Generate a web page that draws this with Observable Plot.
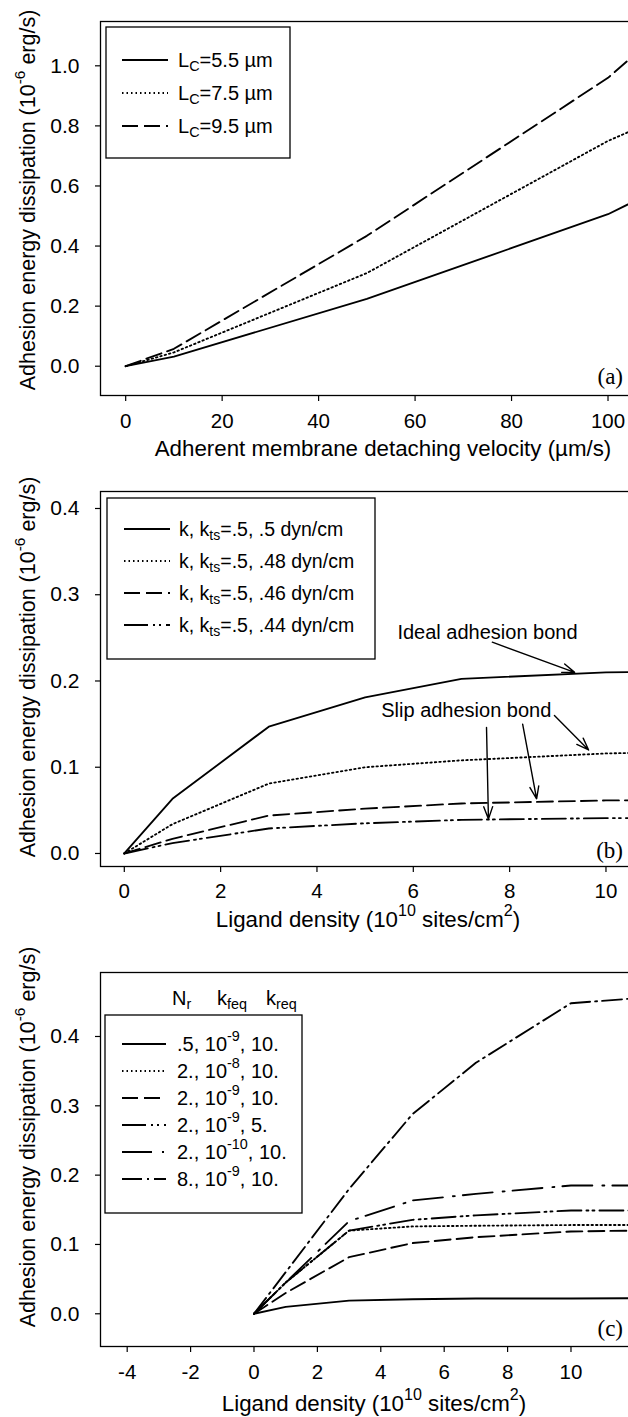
<!DOCTYPE html>
<html><head><meta charset="utf-8">
<script src="https://cdn.jsdelivr.net/npm/d3@7"></script>
<script src="https://cdn.jsdelivr.net/npm/@observablehq/plot@0.6"></script>
<style>
html,body{margin:0;padding:0;background:#fff;}
#chart{width:628px;overflow:hidden;}
#chart svg{display:block;}
</style></head><body><div id="chart"></div>
<script>
const SANS = "'Liberation Sans', Arial, Helvetica, sans-serif";
const SERIF = "'Liberation Serif', 'Times New Roman', serif";

// ---------- Panel (a) data ----------
const velocityA = [0, 10, 50, 100, 110];
const lc55 = [0, 0.032, 0.224, 0.506, 0.585];
const lc75 = [0, 0.046, 0.310, 0.750, 0.820];
const lc95 = [0, 0.058, 0.434, 0.960, 1.100];
const lcLabels = ["5.5", "7.5", "9.5"];
const xTicksA = [0, 20, 40, 60, 80, 100];
const yTicksA = [0, 0.2, 0.4, 0.6, 0.8, 1.0];

// ---------- Panel (b) data ----------
const ligandB = [0, 1, 3, 5, 7, 10, 12];
const kts50 = [0, 0.0634, 0.147, 0.181, 0.2025, 0.210, 0.211];
const kts48 = [0, 0.034, 0.081, 0.100, 0.108, 0.116, 0.118];
const kts46 = [0, 0.017, 0.044, 0.052, 0.058, 0.0615, 0.062];
const kts44 = [0, 0.012, 0.029, 0.035, 0.039, 0.041, 0.041];
const ktsLabels = [".5", ".48", ".46", ".44"];
const xTicksB = [0, 2, 4, 6, 8, 10];
const yTicksB = [0, 0.1, 0.2, 0.3, 0.4];
const noteText = ["Ideal adhesion bond", "Slip adhesion bond"];
const noteX = [7.54, 7.10];
const noteY = [0.2566, 0.1658];
const arrowX1 = [7.64, 8.93, 8.27, 7.52];
const arrowY1 = [0.245, 0.160, 0.150, 0.146];
const arrowX2 = [9.35, 9.64, 8.56, 7.56];
const arrowY2 = [0.210, 0.120, 0.0634, 0.040];

// ---------- Panel (c) data ----------
const ligandC = [0, 1, 3, 5, 7, 10, 12];
const nr05_k9_10 = [0, 0.010, 0.019, 0.021, 0.022, 0.022, 0.0225];
const nr2_k8_10 = [0, 0.045, 0.120, 0.126, 0.127, 0.128, 0.128];
const nr2_k9_10 = [0, 0.030, 0.0817, 0.102, 0.1105, 0.1187, 0.120];
const nr2_k9_5 = [0, 0.045, 0.120, 0.1355, 0.142, 0.149, 0.149];
const nr2_k10_10 = [0, 0.045, 0.1336, 0.1634, 0.173, 0.185, 0.185];
const nr8_k9_10 = [0, 0.060, 0.180, 0.288, 0.362, 0.448, 0.455];
const nrLabels = [".5", "2.", "2.", "2.", "2.", "8."];
const kfeqExp = ["-9", "-8", "-9", "-9", "-10", "-9"];
const kreqLabels = ["10.", "10.", "10.", "5.", "10.", "10."];
const xTicksC = [-4, -2, 0, 2, 4, 6, 8, 10];
const yTicksC = [0, 0.1, 0.2, 0.3, 0.4];

// ---------- styles ----------
const dashA = [null, "1.5,3", "16,6"];
const dashB = [null, "1.5,3", "16,6", "24,5,2,4,2,5"];
const dashC = [null, "1.5,3", "16,6", "24,5,2,4,2,5", "30,10,2,8", "20,5,2,5"];
const LW = 1.85;

const toRows = (xs, ys) => xs.map((x, i) => ({x, y: ys[i]}));

function rich(sel, parts, fs) {
  let shift = 0;
  parts.forEach(p => {
    const str = Array.isArray(p) ? p[0] : p;
    const kind = Array.isArray(p) ? p[1] : null;
    const target = kind === "sub" ? 0.3 * fs : kind === "sup" ? -0.42 * fs : 0;
    const t = sel.append("tspan").text(str).attr("dy", target - shift);
    if (kind) t.attr("font-size", 0.72 * fs);
    shift = target;
  });
}

function panel(cfg) {
  const marks = [
    Plot.frame({stroke: "black", strokeWidth: 1.3}),
    Plot.axisX({ticks: cfg.xTicks, tickSize: 6, tickPadding: cfg.xPad, fontSize: 20.5, label: null, tickFormat: d => String(d), strokeWidth: 1.2}),
    Plot.axisY({ticks: cfg.yTicks, tickSize: 5, tickPadding: 16, fontSize: 21, label: null, tickFormat: d3.format(".1f"), strokeWidth: 1.2}),
    ...cfg.series.map(s => Plot.line(toRows(s.x, s.y), {x: "x", y: "y", stroke: "black", strokeWidth: LW, strokeDasharray: s.dash || undefined, clip: true})),
    ...(cfg.extra || [])
  ];
  const svg = Plot.plot({
    width: 628, height: cfg.height,
    marginLeft: 100, marginRight: -3, marginTop: cfg.mt, marginBottom: cfg.mb,
    style: {fontFamily: SANS, background: "white", color: "black", overflow: "hidden"},
    x: {domain: cfg.xDomain, label: null},
    y: {domain: cfg.yDomain, label: null},
    marks
  });
  const s = d3.select(svg);
  const TF = 22.3;
  const xt = s.append("text").attr("x", cfg.xTitle[0]).attr("y", cfg.xTitle[1])
    .attr("text-anchor", "middle").attr("dominant-baseline", "central")
    .attr("font-size", TF).attr("font-family", SANS).attr("fill", "black");
  rich(xt, cfg.xTitle[2], TF);
  const yt = s.append("text").attr("transform", `translate(28,${cfg.yTitleY}) rotate(-90)`)
    .attr("text-anchor", "middle").attr("dominant-baseline", "central")
    .attr("font-size", 21.5).attr("font-family", SANS).attr("fill", "black");
  rich(yt, ["Adhesion energy dissipation (10", ["-6", "sup"], " erg/s)"], 21.5);
  s.append("text").attr("x", 623).attr("y", cfg.tagY).attr("text-anchor", "end")
    .attr("dominant-baseline", "central").attr("font-family", SERIF).attr("font-size", 23)
    .attr("fill", "black").text(cfg.tag);
  const L = cfg.legend;
  s.append("rect").attr("x", L.box[0]).attr("y", L.box[1]).attr("width", L.box[2] - L.box[0])
    .attr("height", L.box[3] - L.box[1]).attr("fill", "white").attr("stroke", "black").attr("stroke-width", 1.3);
  L.rows.forEach((r, i) => {
    const y = L.y0 + i * L.dy;
    const ln = s.append("line").attr("x1", L.sx[0]).attr("x2", L.sx[1]).attr("y1", y).attr("y2", y)
      .attr("stroke", "black").attr("stroke-width", LW);
    if (r.dash) ln.attr("stroke-dasharray", r.dash);
    const t = s.append("text").attr("x", L.tx).attr("y", y).attr("dominant-baseline", "central")
      .attr("text-anchor", "start")
      .attr("font-family", SANS).attr("font-size", L.fs).attr("fill", "black");
    rich(t, r.parts, L.fs);
  });
  if (L.header) {
    L.header.forEach(h => {
      const t = s.append("text").attr("x", h.x).attr("y", L.headerY).attr("dominant-baseline", "central")
        .attr("text-anchor", "start")
        .attr("font-family", SANS).attr("font-size", L.fs).attr("fill", "black");
      rich(t, h.parts, L.fs);
    });
  }
  document.getElementById("chart").appendChild(svg);
}

// Panel (a)
panel({
  height: 470, mt: 21, mb: 75, xPad: 12,
  xDomain: [-5.22, 104.87], yDomain: [-0.0975, 1.1475],
  xTicks: xTicksA, yTicks: yTicksA,
  series: [lc55, lc75, lc95].map((y, i) => ({x: velocityA, y, dash: dashA[i]})),
  xTitle: [383, 448, ["Adherent membrane detaching velocity (\u00b5m/s)"]],
  yTitleY: 200, tag: "(a)", tagY: 376,
  legend: {
    box: [106, 27, 290, 158], y0: 60, dy: 33, sx: [122, 168], tx: 178, fs: 20,
    rows: lcLabels.map((v, i) => ({dash: dashA[i], parts: ["L", ["C", "sub"], "=" + v + " \u00b5m"]}))
  }
});

// Panel (b)
panel({
  height: 470, mt: 21, mb: 74, xPad: 11,
  xDomain: [-0.494, 10.53], yDomain: [-0.0151, 0.4197],
  xTicks: xTicksB, yTicks: yTicksB,
  series: [kts50, kts48, kts46, kts44].map((y, i) => ({x: ligandB, y, dash: dashB[i]})),
  extra: [
    Plot.text(noteText, {x: (d, i) => noteX[i], y: (d, i) => noteY[i], text: d => d, fontSize: 20, fill: "black"}),
    Plot.arrow(arrowX1, {x1: d => d, y1: (d, i) => arrowY1[i], x2: (d, i) => arrowX2[i], y2: (d, i) => arrowY2[i], stroke: "black", strokeWidth: 1.4, headLength: 14, headAngle: 40})
  ],
  xTitle: [368, 449, ["Ligand density (10", ["10", "sup"], " sites/cm", ["2", "sup"], ")"]],
  yTitleY: 197, tag: "(b)", tagY: 380,
  legend: {
    box: [107, 28, 375, 189], y0: 59, dy: 32, sx: [124, 170], tx: 179, fs: 19.5,
    rows: ktsLabels.map((v, i) => ({dash: dashB[i], parts: ["k, k", ["ts", "sub"], "=.5, " + v + " dyn/cm"]}))
  }
});

// Panel (c)
panel({
  height: 477, mt: 32, mb: 71, xPad: 12,
  xDomain: [-4.842, 11.909], yDomain: [-0.0472, 0.4923],
  xTicks: xTicksC, yTicks: yTicksC,
  series: [nr05_k9_10, nr2_k8_10, nr2_k9_10, nr2_k9_5, nr2_k10_10, nr8_k9_10].map((y, i) => ({x: ligandC, y, dash: dashC[i]})),
  xTitle: [374, 463, ["Ligand density (10", ["10", "sup"], " sites/cm", ["2", "sup"], ")"]],
  yTitleY: 197, tag: "(c)", tagY: 388,
  legend: {
    box: [105, 75, 302, 273], y0: 104, dy: 27, sx: [122, 166], tx: 177, fs: 20, headerY: 58,
    header: [
      {x: 172, parts: ["N", ["r", "sub"]]},
      {x: 217, parts: ["k", ["feq", "sub"]]},
      {x: 266, parts: ["k", ["req", "sub"]]}
    ],
    rows: nrLabels.map((v, i) => ({dash: dashC[i], parts: [v + ", 10", [kfeqExp[i], "sup"], ", " + kreqLabels[i]]}))
  }
});
</script></body></html>
